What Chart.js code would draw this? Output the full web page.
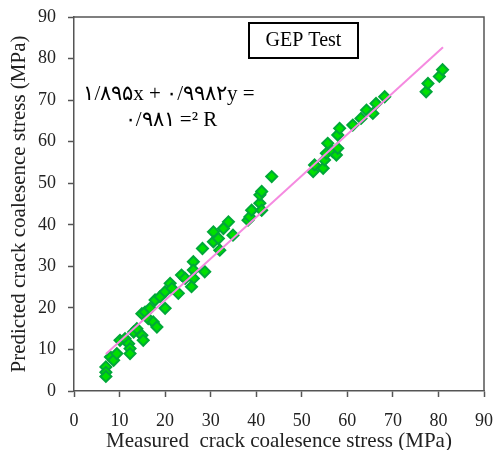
<!DOCTYPE html>
<html>
<head>
<meta charset="utf-8">
<script src="https://cdn.jsdelivr.net/npm/chart.js@4.4.0/dist/chart.umd.min.js"></script>
<style>
  html, body { margin: 0; padding: 0; background: #fff; }
  #wrap { width: 495px; height: 450px; }
</style>
</head>
<body>
<div id="wrap"><canvas id="gepChart" width="495" height="450"></canvas></div>
<script>
// measured vs predicted crack coalescence stress (MPa)
const measured = [7, 7, 7, 8, 8.7, 9.4, 10.1, 11.2, 12, 12.3, 12.3, 13.1, 13.8, 14.9, 15.2,
  14.9, 15.6, 16.3, 17.4, 18.2, 16.7, 17.8, 18.9, 20, 20, 21.1, 21.5, 22.9, 23.6, 24.4,
  26.2, 26.2, 26.2, 25.8, 28.2, 28.7, 30.6, 30.6, 31.7, 32, 32.8, 33.9, 34.9, 38.2, 38.6,
  39, 40.8, 40.8, 41.2, 41.2, 43.4, 52.5, 52.8, 54.7, 55, 55.4, 55.7, 56.8, 57.6, 57.9,
  57.9, 58.3, 61.2, 63, 64.2, 65.6, 66.3, 68.2, 77.3, 77.7, 80.2, 80.9];
const predicted = [5.8, 4.5, 3.5, 8.2, 7.4, 9, 12.2, 12.6, 11.4, 10.2, 9, 14.2, 15, 13.4, 12.2,
  18.6, 19, 17.4, 16.6, 15.4, 19.9, 21.9, 22.7, 23.9, 19.9, 25.9, 24.7, 23.5, 27.9, 27.1,
  31.1, 29.1, 27.1, 25.1, 34.3, 28.7, 38.3, 35.9, 36.7, 33.9, 39.1, 40.7, 37.5, 41.1, 41.9,
  43.5, 45.2, 47.2, 48, 43.5, 51.6, 52.8, 54.4, 53.6, 55.6, 57.2, 59.6, 57.6, 56.8, 58.4,
  61.6, 63.2, 64, 65.6, 67.6, 66.8, 69.2, 70.8, 72, 74, 75.7, 77.3];

// fitted line end points
const fitX = [7, 81];
const fitY = [8.9, 82.7];

const axisTicks = [0, 10, 20, 30, 40, 50, 60, 70, 80, 90];

const SERIF = "'Times New Roman', 'Liberation Serif', serif";

// frame, title box, equation and y title
const decorPlugin = {
  id: 'decor',
  afterDraw(chart) {
    const ctx = chart.ctx;
    const a = chart.chartArea;
    ctx.save();
    // top / right border of the plot box
    ctx.strokeStyle = '#555';
    ctx.lineWidth = 1.5;
    ctx.beginPath();
    ctx.moveTo(a.left, a.top);
    ctx.lineTo(a.right, a.top);
    ctx.lineTo(a.right, a.bottom);
    ctx.stroke();

    // "GEP Test" box
    ctx.strokeStyle = '#000';
    ctx.lineWidth = 2;
    ctx.strokeRect(249, 23, 109, 35);
    ctx.fillStyle = '#000';
    ctx.font = '20px ' + SERIF;
    ctx.textAlign = 'center';
    ctx.textBaseline = 'middle';
    ctx.fillText('GEP Test', 303.5, 41);

    // equation
    ctx.direction = 'ltr';
    ctx.font = '21px ' + SERIF;
    ctx.fillText('۱/۸۹۵x + ۰/۹۹۸۲y =', 169, 94);
    ctx.fillText('۰/۹۸۱ =² R', 171, 120);

    // y axis title
    ctx.fillStyle = '#222';
    ctx.font = '21px ' + SERIF;
    ctx.translate(19, 204);
    ctx.rotate(-Math.PI / 2);
    ctx.fillText('Predicted crack coalesence stress (MPa)', 0, 0);
    ctx.restore();
  }
};

const ctx = document.getElementById('gepChart').getContext('2d');
new Chart(ctx, {
  type: 'scatter',
  data: {
    datasets: [
      {
        label: 'GEP',
        data: measured.map((m, i) => ({ x: m, y: predicted[i] })),
        pointStyle: 'rectRot',
        pointRadius: 5.5,
        pointBackgroundColor: '#00e000',
        pointBorderColor: '#00a838',
        pointBorderWidth: 2,
        order: 1
      },
      {
        label: 'fit',
        type: 'line',
        data: fitX.map((v, i) => ({ x: v, y: fitY[i] })),
        borderColor: '#f58ae0',
        borderWidth: 2,
        pointRadius: 0,
        fill: false,
        order: 0
      }
    ]
  },
  options: {
    responsive: false,
    animation: false,
    layout: { padding: { top: 17, right: 11, left: 0, bottom: 0 } },
    plugins: {
      legend: { display: false },
      tooltip: { enabled: false }
    },
    scales: {
      x: {
        type: 'linear',
        min: 0,
        max: 90,
        afterBuildTicks: s => { s.ticks = axisTicks.map(v => ({ value: v })); },
        afterFit: s => { s.height = 59; s.paddingLeft = 0; s.paddingRight = 0; },
        grid: { drawOnChartArea: false, drawTicks: true, tickLength: 6, tickColor: '#555', tickWidth: 1.5 },
        border: { color: '#555', width: 1.5 },
        ticks: { color: '#222', font: { family: SERIF, size: 18 }, padding: 13 },
        title: {
          display: true,
          text: 'Measured  crack coalesence stress (MPa)',
          color: '#222',
          font: { family: SERIF, size: 21 },
          padding: { top: 0, bottom: -4 }
        }
      },
      y: {
        type: 'linear',
        min: 0,
        max: 90,
        afterBuildTicks: s => { s.ticks = axisTicks.map(v => ({ value: v })); },
        afterFit: s => { s.width = 74; s.paddingTop = 0; s.paddingBottom = 0; },
        grid: { drawOnChartArea: false, drawTicks: true, tickLength: 6, tickColor: '#555', tickWidth: 1.5 },
        border: { color: '#555', width: 1.5 },
        ticks: { color: '#222', font: { family: SERIF, size: 18 }, padding: 12 }
      }
    }
  },
  plugins: [decorPlugin]
});
</script>
</body>
</html>
